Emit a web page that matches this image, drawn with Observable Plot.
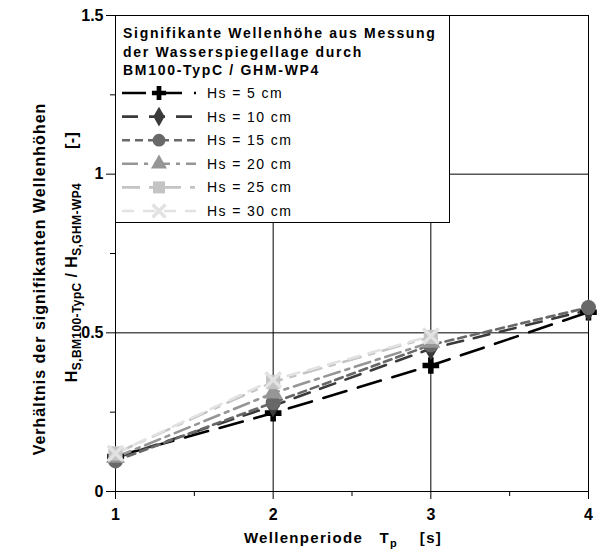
<!DOCTYPE html>
<html><head><meta charset="utf-8">
<script src="https://cdn.jsdelivr.net/npm/d3@7"></script>
<script src="https://cdn.jsdelivr.net/npm/@observablehq/plot@0.6"></script>
<style>
body{margin:0;background:#fff;font-family:"Liberation Sans",Arial,sans-serif}
#wrap{position:relative;width:606px;height:551px}
</style>
</head><body><div id="wrap"></div>
<script>
// ---- data ----
const periods = [1, 2, 3, 4];
const seriesLabels = ["Hs = 5 cm", "Hs = 10 cm", "Hs = 15 cm", "Hs = 20 cm", "Hs = 25 cm", "Hs = 30 cm"];
const hs5  = [0.110, 0.247, 0.397, 0.565];
const hs10 = [0.105, 0.270, 0.450, 0.572];
const hs15 = [0.097, 0.280, 0.462, 0.580];
const hs20 = [0.108, 0.310, 0.470];
const hs25 = [0.120, 0.345, 0.487];
const hs30 = [0.120, 0.352, 0.490];
const yTicks = [0, 0.5, 1, 1.5];
const yMinorTicks = [0.25, 0.75, 1.25];
const xTicks = [1, 2, 3, 4];
const xMinorTicks = [1.5, 2.5, 3.5];
const gridXValues = [2, 3];
const gridYValues = [0.5, 1];
const legendTitle = ["Signifikante Wellenhöhe aus Messung", "der Wasserspiegellage durch", "BM100-TypC / GHM-WP4"];
const xLabel = "Wellenperiode   T";
const yLabel1 = "Verhältnis der signifikanten Wellenhöhen";

// ---- styles ----
const styles = [
  {color: "#000000", dash: "24,12",       symbol: "cross",    r: 7},
  {color: "#3a3a3a", dash: "16,11",       symbol: "diamond",  r: 7},
  {color: "#686868", dash: "8,5",         symbol: "circle",   r: 7.5},
  {color: "#969696", dash: "16,6,4,6",    symbol: "triangle", r: 7},
  {color: "#c4c4c4", dash: "18,9,5,9",    symbol: "square",   r: 8},
  {color: "#e2e2e2", dash: "12,9",        symbol: "times",    r: 7}
];

const series = [hs5, hs10, hs15, hs20, hs25, hs30];
const tables = series.map(vals => vals.map((v, j) => ({tp: periods[j], ratio: v})));

const lineMarks = tables.map((t, i) => Plot.line(t, {
  x: "tp", y: "ratio", stroke: styles[i].color, strokeWidth: 2.6,
  strokeDasharray: styles[i].dash
}));
const dotMarks = tables.map((t, i) => styles[i].symbol === "times"
  ? Plot.dot(t, {x: "tp", y: "ratio", symbol: "times", r: styles[i].r, stroke: styles[i].color, strokeWidth: 3.5, fill: "none"})
  : Plot.dot(t, {x: "tp", y: "ratio", symbol: styles[i].symbol, r: styles[i].r, fill: styles[i].color, stroke: "none"}));

const chart = Plot.plot({
  width: 606, height: 551,
  marginLeft: 115, marginRight: 18, marginTop: 15, marginBottom: 60,
  style: {fontFamily: "'Liberation Sans', Arial, sans-serif", fontSize: "16px", fontWeight: "bold", color: "#000", background: "#fff", overflow: "visible"},
  x: {domain: [1, 4]},
  y: {domain: [0, 1.5]},
  marks: [
    Plot.gridX(gridXValues, {stroke: "#000", strokeOpacity: 1, strokeWidth: 1}),
    Plot.gridY(gridYValues, {stroke: "#000", strokeOpacity: 1, strokeWidth: 1}),
    Plot.frame({stroke: "#000", strokeWidth: 1}),
    Plot.axisY(yTicks, {tickSize: 9, tickPadding: 3, tickFormat: d => String(d), label: null, fontSize: 16, fontWeight: "bold"}),
    Plot.axisY(yMinorTicks, {tickSize: 5, text: null, label: null}),
    Plot.axisX(xTicks, {tickSize: 8, tickPadding: 9, tickFormat: d => String(d), label: null, fontSize: 16, fontWeight: "bold"}),
    Plot.axisX(xMinorTicks, {tickSize: 5, text: null, label: null}),
    ...lineMarks,
    ...dotMarks
  ]
});
document.getElementById("wrap").appendChild(chart);

// ---- labels & legend (layout only) ----
const svg = d3.select(chart);

// x label
const xl = svg.append("text").attr("x", 343).attr("y", 543).attr("text-anchor", "middle")
  .style("font-size", "15px").style("font-weight", "bold").style("letter-spacing", "1.3px")
  .style("white-space", "pre").attr("fill", "#000");
xl.append("tspan").text(xLabel);
xl.append("tspan").attr("dy", 4).style("font-size", "11px").text("p");
xl.append("tspan").attr("dy", -4).text("    [s]");

// y label
svg.append("text").attr("transform", "translate(45,279) rotate(-90)").attr("text-anchor", "middle")
  .style("font-size", "16px").style("font-weight", "bold").style("letter-spacing", "1px").attr("fill", "#000")
  .text(yLabel1);
const yl2 = svg.append("text").attr("transform", "translate(77,257) rotate(-90)").attr("text-anchor", "middle")
  .style("font-size", "16px").style("font-weight", "bold").style("white-space", "pre")
  .style("letter-spacing", "0.4px").attr("fill", "#000");
yl2.append("tspan").text("H");
yl2.append("tspan").attr("dy", 4).style("font-size", "12px").text("S,BM100-TypC");
yl2.append("tspan").attr("dy", -4).text(" / H");
yl2.append("tspan").attr("dy", 4).style("font-size", "12px").text("S,GHM-WP4");
yl2.append("tspan").attr("dy", -4).text("       [-]");

// legend
const lg = svg.append("g").attr("text-anchor", "start");
lg.append("rect").attr("x", 115.5).attr("y", 15.5).attr("width", 334).attr("height", 207)
  .attr("fill", "#fff").attr("stroke", "#000").attr("stroke-width", 1);
legendTitle.forEach((t, i) => {
  lg.append("text").attr("x", 123).attr("y", 38 + i * 18.5).attr("text-anchor", "start")
    .style("font-size", "14px").style("font-weight", "bold").style("letter-spacing", "1.7px")
    .attr("fill", "#000").text(t);
});
const symMap = {cross: d3.symbolCross, diamond: d3.symbolDiamond, circle: d3.symbolCircle,
  triangle: d3.symbolTriangle, square: d3.symbolSquare, times: d3.symbolTimes};
seriesLabels.forEach((lab, i) => {
  const y = 93 + i * 23.6;
  const s = styles[i];
  lg.append("line").attr("x1", 122).attr("x2", 196).attr("y1", y).attr("y2", y)
    .attr("stroke", s.color).attr("stroke-width", 2.6).attr("stroke-dasharray", s.dash);
  const rr = s.r * 0.85;
  const p = d3.symbol(symMap[s.symbol], Math.PI * rr * rr)();
  const m = lg.append("path").attr("d", p).attr("transform", `translate(159,${y})`);
  if (s.symbol === "times") m.attr("fill", "none").attr("stroke", s.color).attr("stroke-width", 3.5);
  else m.attr("fill", s.color);
  lg.append("text").attr("x", 207).attr("y", y + 5).attr("text-anchor", "start")
    .style("font-size", "14px").style("font-weight", "normal").style("letter-spacing", "1.4px")
    .attr("fill", "#000").text(lab);
});
</script>
</body></html>
